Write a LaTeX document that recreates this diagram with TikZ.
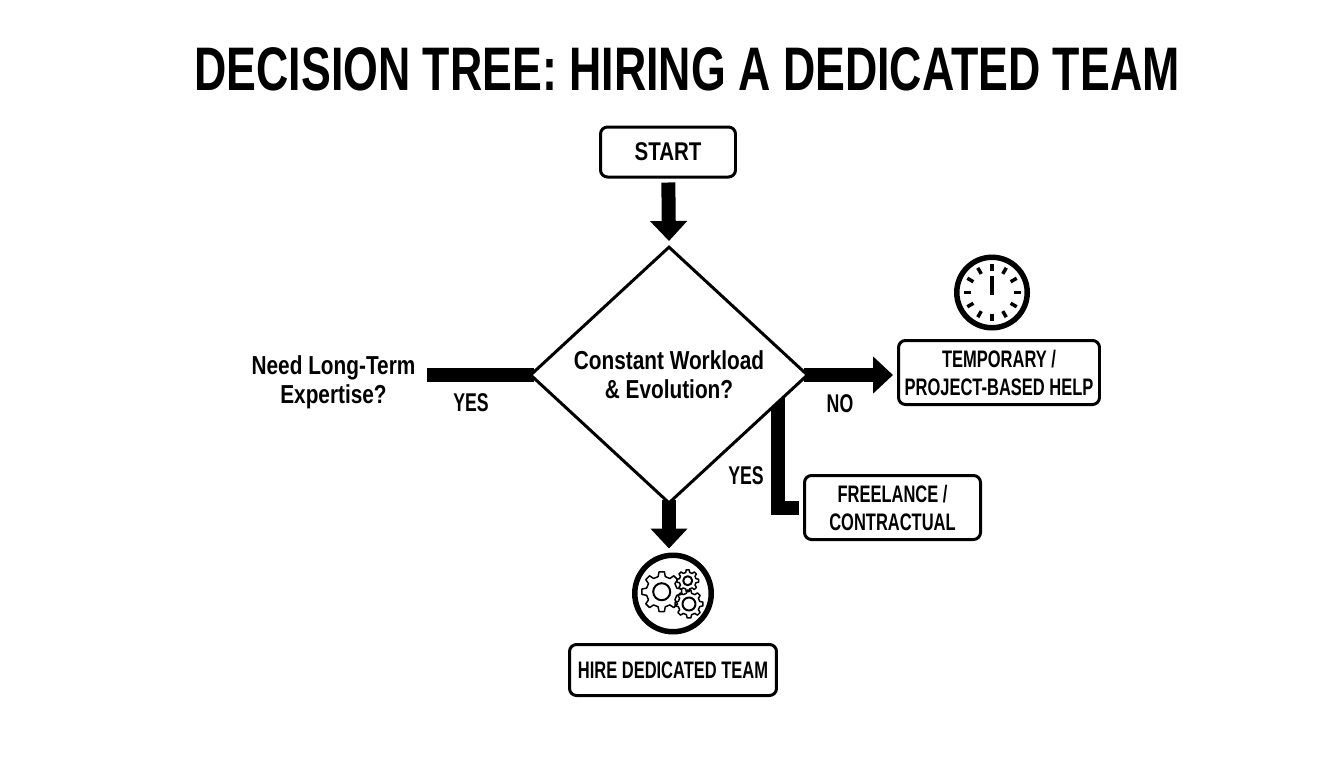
\documentclass[tikz,border=0pt]{standalone}
\usepackage{fontspec}
\setmainfont{Liberation Sans}[FakeStretch=0.8]
\newfontfamily\capsfont{Liberation Sans}[FakeStretch=0.69]
\newfontfamily\titlefont{Liberation Sans}[FakeStretch=0.727]
\usetikzlibrary{arrows.meta}
\usetikzlibrary{shapes.geometric}
\usetikzlibrary{backgrounds}
\tikzset{
	resultbox/.style={draw,line width=0.06cm,rounded corners=0.14cm,fill=white,align=center,inner sep=0pt,
		font=\capsfont\bfseries\fontsize{13.6}{15.9}\selectfont},
	barline/.style={line width=0.28cm},
	bararrow/.style={barline,-{Triangle[width=0.72cm,length=0.4cm]}},
	questionlabel/.style={inner sep=0pt,align=center,font=\bfseries\fontsize{14.8}{16.6}\selectfont},
	branchlabel/.style={inner sep=0pt,font=\capsfont\bfseries\fontsize{14.6}{16.6}\selectfont},
	iconring/.style={draw,line width=0.11cm,fill=white},
	geartooth/.style={line width=0.03cm,line join=round},
}
\newcommand{\geardraw}[5]{% center, outer, root, hole, teeth
	\begin{scope}[shift={#1}]
		\pgfmathsetmacro{\gstep}{360/#5}
		\draw[geartooth] (-0.30*\gstep:#3)
			\foreach \k in {1,...,#5} {
				-- ({(\k-1)*\gstep-0.30*\gstep}:#3)
				-- ({(\k-1)*\gstep-0.17*\gstep}:#2)
				-- ({(\k-1)*\gstep+0.17*\gstep}:#2)
				-- ({(\k-1)*\gstep+0.30*\gstep}:#3)
				-- ({(\k-1)*\gstep+0.70*\gstep}:#3)
			} -- cycle;
		\draw[geartooth,line width=0.04cm] (0,0) circle (#4);
	\end{scope}
}
\begin{document}
\begin{tikzpicture}[x=0.02cm,y=-0.02cm]
	\useasboundingbox (0,0) rectangle (1344,768);
	\node (title) [inner sep=0pt,font=\titlefont\bfseries\fontsize{35}{40}\selectfont] at (687,69) {DECISION TREE: HIRING A DEDICATED TEAM};
	\node (start) [resultbox,minimum width=2.7cm,minimum height=1cm,font=\bfseries\fontsize{14.6}{16.6}\selectfont] at (668,152) {START};
	\node (question) [diamond,draw,line width=0.06cm,fill=white,aspect=1.08,inner sep=0pt,minimum width=5.56cm,minimum height=5.14cm,
		questionlabel] at (669,375) {Constant Workload\\\& Evolution?};
	\node (expertise) [questionlabel,inner xsep=0.22cm] at (333.5,382) {Need Long-Term\\Expertise?};
	\node (temporary) [resultbox,minimum width=4.02cm,minimum height=1.28cm] at (999,372.5) {TEMPORARY /\\PROJECT-BASED HELP};
	\node (freelance) [resultbox,minimum width=3.52cm,minimum height=1.28cm] at (892.5,507.5) {FREELANCE /\\CONTRACTUAL};
	\node (hire) [resultbox,minimum width=4.14cm,minimum height=1.02cm] at (673,670) {HIRE DEDICATED TEAM};
	\node (yesleft) [branchlabel] at (471,403) {YES};
	\node (no) [branchlabel] at (840,404) {NO};
	\node (yesdown) [branchlabel] at (746,476) {YES};
	\node (clockring) [circle,iconring,minimum size=1.41cm,inner sep=0pt] at (992,292.5) {};
	\node (gearring) [circle,iconring,minimum size=1.53cm,inner sep=0pt] at (673,593.5) {};
	\coordinate (elbow) at (778,396);

	% connectors go under the diamond
	\begin{pgfonlayer}{background}
		\draw [bararrow,shorten <=0.08cm,shorten >=0.08cm] (start) -- (question.north);
		\draw [bararrow,shorten <=-0.1cm,shorten >=0.08cm] (question.south) -- (question.south |- gearring.north);
		\draw [bararrow,shorten <=-0.1cm,shorten >=0.08cm] (question.east) -- (question.east -| temporary.west);
		\draw [barline,shorten <=-0.1cm] (question.west) -- (question.west -| expertise.east);
		\draw [barline,shorten >=0.08cm] (elbow) |- (freelance.west);
	\end{pgfonlayer}

	% clock
	\foreach \a in {0,30,...,330}
		\draw [line width=0.07cm] (clockring.center) ++(\a:21.5) -- ++(\a:7);
	\draw [line width=0.07cm] (clockring.center) ++(0,2.5) -- ++(0,-19);

	% gears
	\geardraw{(661.7,591.7)}{20}{15.5}{8.5}{8}
	\geardraw{(687.7,580.7)}{11}{8.5}{4.5}{8}
	\geardraw{(689,604)}{14}{11}{6.5}{8}
\end{tikzpicture}
\end{document}
